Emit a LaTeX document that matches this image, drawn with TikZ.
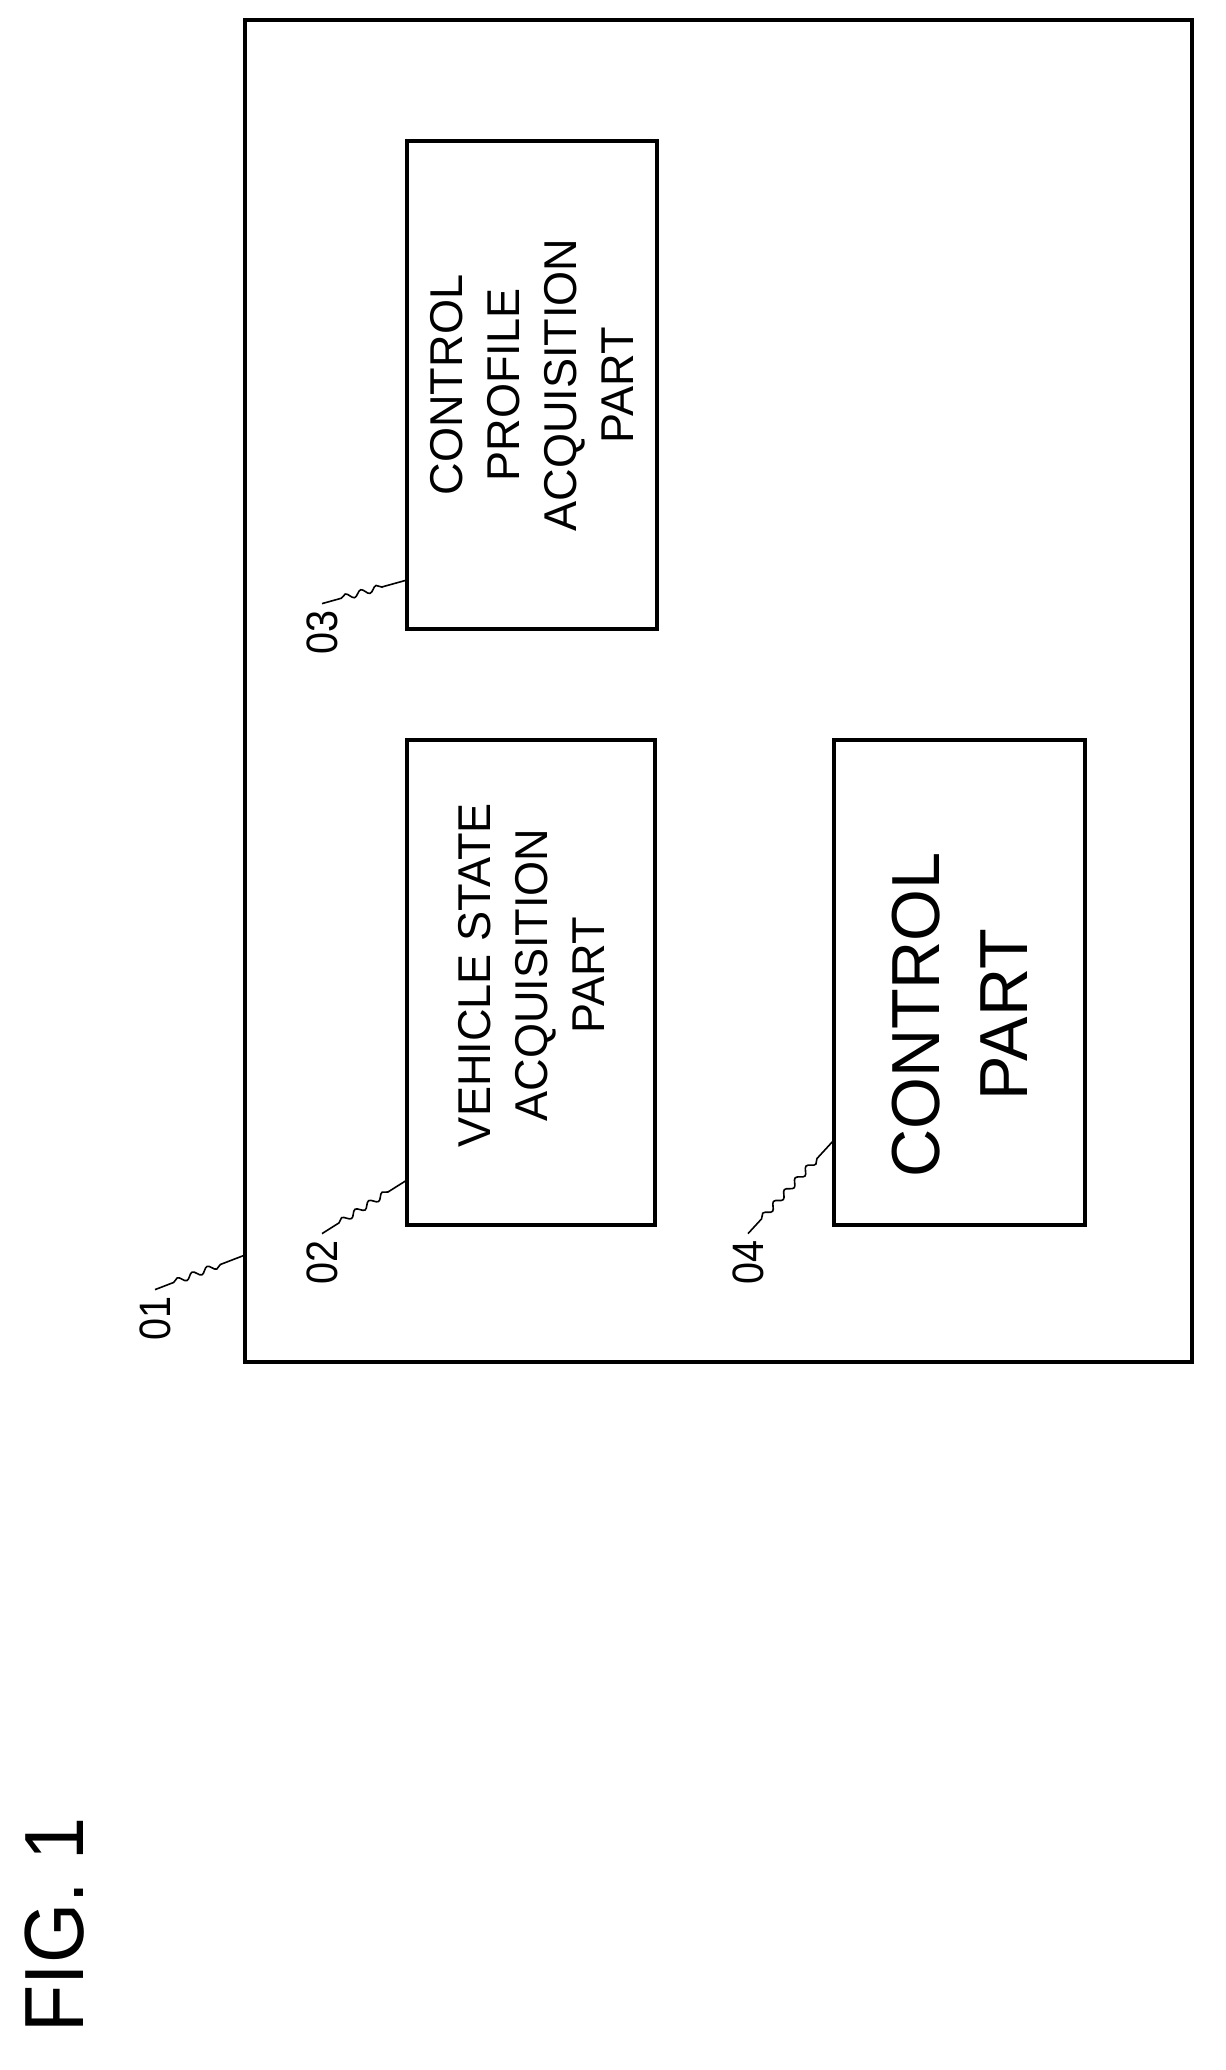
\documentclass[tikz,border=0pt]{standalone}
\usepackage{fontspec}
\setmainfont{Liberation Sans}
\usetikzlibrary{decorations.pathmorphing}
\begin{document}
\begin{tikzpicture}[x=0.5pt,y=-0.5pt,
 box/.style={draw,line width=2.2pt},
 lbl/.style={rotate=90,font=\fontsize{22}{26}\selectfont,xscale=0.9},
 big/.style={rotate=90,font=\fontsize{34}{44}\selectfont,xscale=0.98,align=center},
 mid/.style={rotate=90,font=\fontsize{23}{28.5}\selectfont,xscale=0.98,align=center},
 lead/.style={line width=0.8pt,decorate,decoration={snake,amplitude=1.5pt,segment length=8pt,pre length=10pt,post length=10pt}}]
\useasboundingbox (0,0) rectangle (1225,2070);
\draw[box,line width=1.8pt] (245,20) rectangle (1192,1362);
\draw[box] (407,141) rectangle (657,629);
\draw[box] (407,740) rectangle (655,1225);
\draw[box] (834,740) rectangle (1085,1225);
\coordinate (c1) at (245,1255);
\coordinate (c2) at (407,1180);
\coordinate (c3) at (407,580);
\coordinate (c4) at (834,1140);
\node[mid] (t3) at (532,385) {CONTROL\\PROFILE\\ACQUISITION\\PART};
\node[mid] (t2) at (531,975) {VEHICLE STATE\\ACQUISITION\\PART};
\node[big] (t4) at (960,1015) {CONTROL\\PART};
\node[lbl] (l1) at (155,1318) {01};
\node[lbl] (l2) at (322,1262) {02};
\node[lbl] (l3) at (322,632) {03};
\node[lbl] (l4) at (748,1262) {04};
\draw[lead] (l1.east) -- (c1);
\draw[lead] (l2.east) -- (c2);
\draw[lead] (l3.east) -- (c3);
\draw[lead] (l4.east) -- (c4);
\node[rotate=90,font=\fontsize{42}{50}\selectfont,xscale=0.92] (fig) at (55,1925) {FIG. 1};
\end{tikzpicture}
\end{document}
